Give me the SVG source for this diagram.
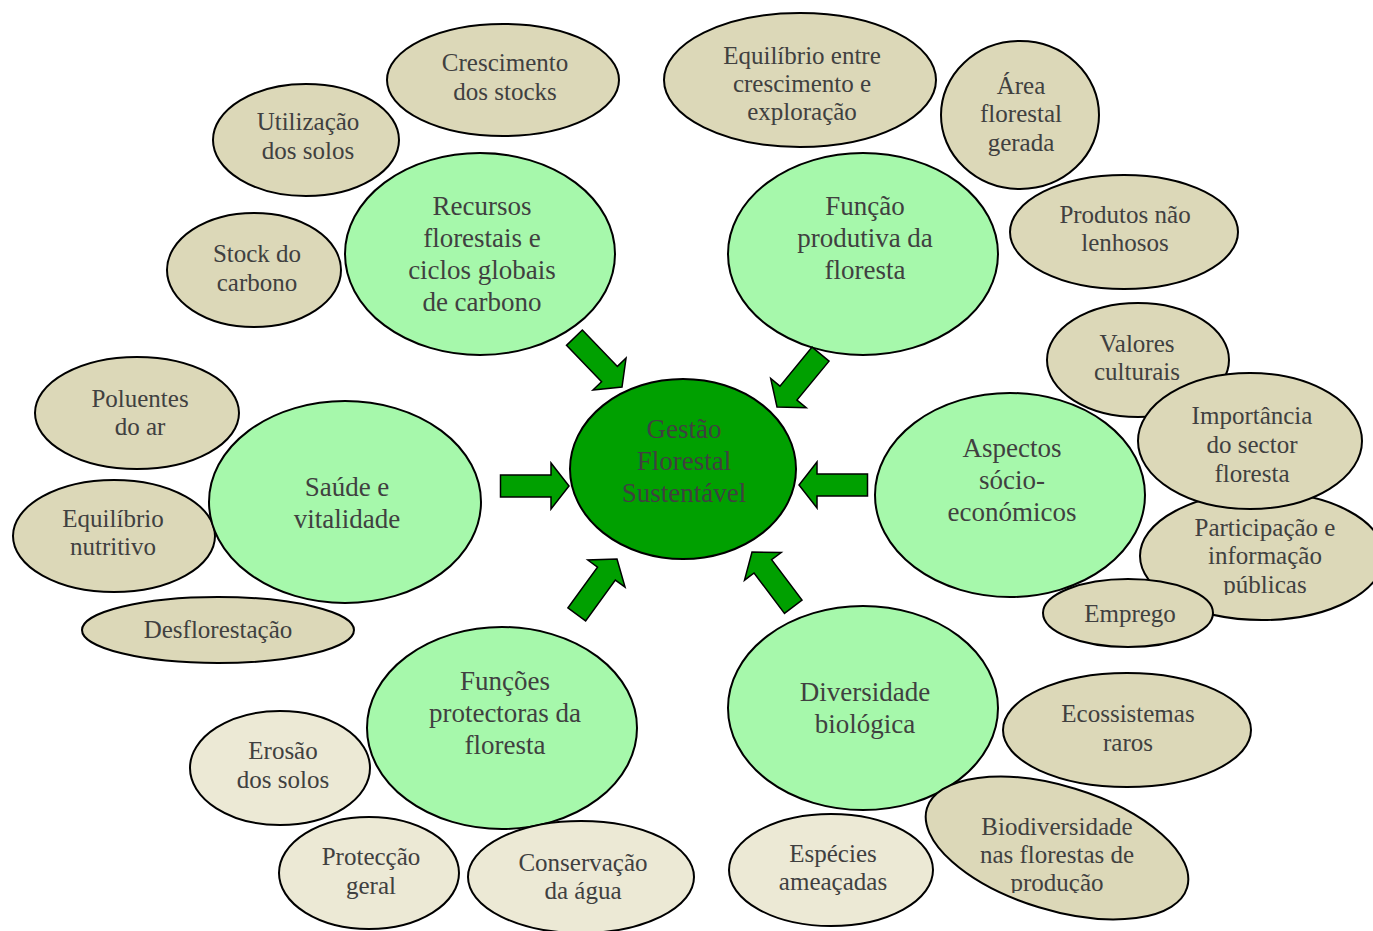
<svg xmlns="http://www.w3.org/2000/svg" width="1373" height="931" viewBox="0 0 1373 931">
<style>
.g{fill:#A6F8AB;stroke:#000;stroke-width:2}
.c{fill:#00A000;stroke:#000;stroke-width:2}
.t{fill:#DCD8B8;stroke:#000;stroke-width:2}
.l{fill:#ECE9D5;stroke:#000;stroke-width:2}
text{font-family:"Liberation Serif","Times New Roman",serif;fill:#404040;text-anchor:middle}
.big{font-size:27px}
.sm{font-size:25px}
.arr{fill:#00A000;stroke:#000;stroke-width:1.5;stroke-linejoin:miter}
</style>
<defs>
<path id="ar" d="M-68.5,-11 L-18,-11 L-18,-23 L0,0 L-18,23 L-18,11 L-68.5,11 Z"/>
<clipPath id="cp1"><rect x="1130" y="480" width="243" height="115"/></clipPath>
<clipPath id="cp2"><rect x="900" y="770" width="300" height="123"/></clipPath>
</defs>
<rect width="1373" height="931" fill="#fff"/>

<g id="crescimento"><ellipse class="t" cx="503" cy="80" rx="116" ry="56"/><text class="sm"><tspan x="505" y="71">Crescimento</tspan><tspan x="505" y="100">dos stocks</tspan></text></g>
<g id="utilizacao"><ellipse class="t" cx="306" cy="140" rx="93" ry="56"/><text class="sm"><tspan x="308" y="130">Utilização</tspan><tspan x="308" y="159">dos solos</tspan></text></g>
<g id="stock"><ellipse class="t" cx="254" cy="270" rx="87" ry="57"/><text class="sm"><tspan x="257" y="262">Stock do</tspan><tspan x="257" y="291">carbono</tspan></text></g>
<g id="recursos"><ellipse class="g" cx="480" cy="254" rx="135" ry="101"/><text class="big"><tspan x="482" y="215">Recursos</tspan><tspan x="482" y="247">florestais e</tspan><tspan x="482" y="279">ciclos globais</tspan><tspan x="482" y="311">de carbono</tspan></text></g>

<g id="equilibrio-entre"><ellipse class="t" cx="800" cy="80" rx="136" ry="67"/><text class="sm"><tspan x="802" y="64">Equilíbrio entre</tspan><tspan x="802" y="92">crescimento e</tspan><tspan x="802" y="120">exploração</tspan></text></g>
<g id="area"><ellipse class="t" cx="1020" cy="115" rx="79" ry="74"/><text class="sm"><tspan x="1021" y="94">Área</tspan><tspan x="1021" y="122">florestal</tspan><tspan x="1021" y="151">gerada</tspan></text></g>
<g id="produtos"><ellipse class="t" cx="1124" cy="232" rx="114" ry="57"/><text class="sm"><tspan x="1125" y="223">Produtos não</tspan><tspan x="1125" y="251">lenhosos</tspan></text></g>
<g id="funcao"><ellipse class="g" cx="863" cy="254" rx="135" ry="101"/><text class="big"><tspan x="865" y="215">Função</tspan><tspan x="865" y="247">produtiva da</tspan><tspan x="865" y="279">floresta</tspan></text></g>

<g id="poluentes"><ellipse class="t" cx="137" cy="413" rx="102" ry="56"/><text class="sm"><tspan x="140" y="407">Poluentes</tspan><tspan x="140" y="435">do ar</tspan></text></g>
<g id="equilibrio-nutritivo"><ellipse class="t" cx="114" cy="536" rx="101" ry="56"/><text class="sm"><tspan x="113" y="527">Equilíbrio</tspan><tspan x="113" y="555">nutritivo</tspan></text></g>
<g id="desflorestacao"><ellipse class="t" cx="218" cy="630" rx="136" ry="33"/><text class="sm" x="218" y="638">Desflorestação</text></g>
<g id="saude"><ellipse class="g" cx="345" cy="502" rx="136" ry="101"/><text class="big"><tspan x="347" y="496">Saúde e</tspan><tspan x="347" y="528">vitalidade</tspan></text></g>

<g id="aspectos"><ellipse class="g" cx="1010" cy="495" rx="135" ry="102"/><text class="big"><tspan x="1012" y="457">Aspectos</tspan><tspan x="1012" y="489">sócio-</tspan><tspan x="1012" y="521">económicos</tspan></text></g>
<g id="participacao"><ellipse class="t" cx="1262" cy="556" rx="122" ry="64"/><text class="sm" clip-path="url(#cp1)"><tspan x="1265" y="536">Participação e</tspan><tspan x="1265" y="564">informação</tspan><tspan x="1265" y="593">públicas</tspan></text></g>
<g id="valores"><ellipse class="t" cx="1138" cy="360" rx="91" ry="57"/><text class="sm"><tspan x="1137" y="352">Valores</tspan><tspan x="1137" y="380">culturais</tspan></text></g>
<g id="importancia"><ellipse class="t" cx="1250" cy="441" rx="112" ry="68"/><text class="sm"><tspan x="1252" y="424">Importância</tspan><tspan x="1252" y="453">do sector</tspan><tspan x="1252" y="482">floresta</tspan></text></g>
<g id="emprego"><ellipse class="t" cx="1128" cy="613" rx="85" ry="34"/><text class="sm" x="1130" y="622">Emprego</text></g>

<g id="funcoes"><ellipse class="g" cx="502" cy="728" rx="135" ry="101"/><text class="big"><tspan x="505" y="690">Funções</tspan><tspan x="505" y="722">protectoras da</tspan><tspan x="505" y="754">floresta</tspan></text></g>
<g id="erosao"><ellipse class="l" cx="280" cy="768" rx="90" ry="57"/><text class="sm"><tspan x="283" y="759">Erosão</tspan><tspan x="283" y="788">dos solos</tspan></text></g>
<g id="proteccao"><ellipse class="l" cx="369" cy="873" rx="90" ry="56"/><text class="sm"><tspan x="371" y="865">Protecção</tspan><tspan x="371" y="894">geral</tspan></text></g>
<g id="conservacao"><ellipse class="l" cx="581" cy="877" rx="113" ry="56"/><text class="sm"><tspan x="583" y="871">Conservação</tspan><tspan x="583" y="899">da água</tspan></text></g>

<g id="diversidade"><ellipse class="g" cx="863" cy="708" rx="135" ry="102"/><text class="big"><tspan x="865" y="701">Diversidade</tspan><tspan x="865" y="733">biológica</tspan></text></g>
<g id="ecossistemas"><ellipse class="t" cx="1127" cy="730" rx="124" ry="57"/><text class="sm"><tspan x="1128" y="722">Ecossistemas</tspan><tspan x="1128" y="751">raros</tspan></text></g>
<g id="especies"><ellipse class="l" cx="831" cy="870" rx="102" ry="56"/><text class="sm"><tspan x="833" y="862">Espécies</tspan><tspan x="833" y="890">ameaçadas</tspan></text></g>
<g id="biodiversidade"><ellipse class="t" cx="1057" cy="848" rx="136" ry="62" transform="rotate(17 1057 848)"/><text class="sm" clip-path="url(#cp2)"><tspan x="1057" y="835">Biodiversidade</tspan><tspan x="1057" y="863">nas florestas de</tspan><tspan x="1057" y="891">produção</tspan></text></g>

<g id="gestao"><ellipse class="c" cx="683" cy="469" rx="113" ry="90"/><text class="big"><tspan x="684" y="438">Gestão</tspan><tspan x="684" y="470">Florestal</tspan><tspan x="684" y="502">Sustentável</tspan></text></g>

<g id="connectors">
<use href="#ar" class="arr" transform="translate(622 387) rotate(46)"/>
<use href="#ar" class="arr" transform="translate(777 407) rotate(129.5)"/>
<use href="#ar" class="arr" transform="translate(569 486)"/>
<use href="#ar" class="arr" transform="translate(799 485) rotate(180)"/>
<use href="#ar" class="arr" transform="translate(617 559) rotate(-54)"/>
<use href="#ar" class="arr" transform="translate(752 552) rotate(-127)"/>
</g>
</svg>
